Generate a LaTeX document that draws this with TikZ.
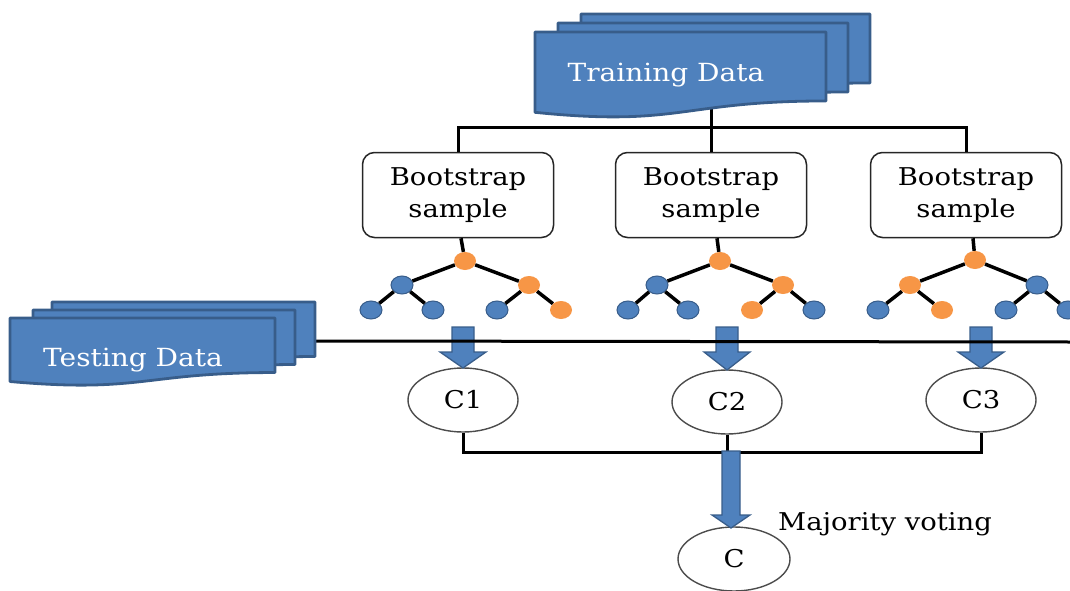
\documentclass[tikz,border=0pt]{standalone}
\usepackage{fontspec}
\setmainfont[FakeStretch=1.12]{DejaVu Serif}
\usetikzlibrary{shapes.geometric}
\definecolor{docblue}{HTML}{4F81BD}
\definecolor{docedge}{HTML}{385D8A}
\definecolor{nodeorange}{HTML}{F79646}
\tikzset{
  doc/.style={fill=docblue, draw=docedge, line width=2.8pt, line join=round},
  doctext/.style={text=white, font=\fontsize{25}{30}\selectfont, inner sep=0, anchor=base},
  bootbox/.style={draw=black!85, line width=1.5pt, rounded corners=12pt, minimum width=191pt, minimum height=85pt, align=center, font=\fontsize{24.5}{32}\selectfont, inner sep=0},
  clf/.style={ellipse, draw=black!70, line width=1.4pt, minimum width=110pt, minimum height=64pt, inner sep=0, font=\fontsize{24.5}{30}\selectfont},
  link/.style={line width=3pt, black},
  tedge/.style={line width=3.5pt, black},
  bn/.style={ellipse, fill=docblue, draw=docedge, line width=1pt, minimum width=22pt, minimum height=18pt, inner sep=0},
  on/.style={ellipse, fill=nodeorange, minimum width=22pt, minimum height=18pt, inner sep=0},
  blockarrow/.style={fill=docblue, draw=docedge, line width=1.3pt, line join=miter},
}
\newcommand\mydoc[4]{%
  \pgfmathsetmacro\dxr{#1+#3}\pgfmathsetmacro\dxm{#1+0.5*#3}%
  \pgfmathsetmacro\dyr{#2+0.802*#4}\pgfmathsetmacro\dyc{#2+1.107*#4}\pgfmathsetmacro\dyl{#2+0.934*#4}%
  \draw[doc] (#1,#2) -- (\dxr,#2) -- (\dxr,\dyr) .. controls (\dxm,\dyr) and (\dxm,\dyc) .. (#1,\dyl) -- cycle;}
\newcommand\blkarrow[6]{%
  \draw[blockarrow] (#1-#5,#2) -- (#1+#5,#2) -- (#1+#5,#3) -- (#1+#6,#3) -- (#1,#4) -- (#1-#6,#3) -- (#1-#5,#3) -- cycle;}
\begin{document}
\begin{tikzpicture}[x=1pt,y=-1pt]
\useasboundingbox (0,0) rectangle (1070,591);

% bootstrap boxes
\node[bootbox] (b1) at (458,195) {Bootstrap\\sample};
\node[bootbox] (b2) at (711,195) {Bootstrap\\sample};
\node[bootbox] (b3) at (966,195) {Bootstrap\\sample};

% training connector
\coordinate (tdb) at (711,100);
\coordinate (bus) at (711,128);
\draw[link] (b1.north) |- (b3.north |- bus) -- (b3.north);
\draw[link] (b2.north |- tdb) -- (b2.north);

% training data stack
\mydoc{581}{14}{289}{86}
\mydoc{558}{23}{290}{86}
\mydoc{535}{32}{291}{86}
\node[doctext] (td) at (666,82) {Training Data};

% trees
\begin{scope}[shift={(465,261)}]
  \node[on] (a0) at (0,0) {};
  \node[bn] (aL) at (-63,24) {};
  \node[on] (aR) at (64,24) {};
  \node[bn] (aLL) at (-94,49) {};
  \node[bn] (aLR) at (-32,49) {};
  \node[bn] (aRL) at (32,49) {};
  \node[on] (aRR) at (96,49) {};
\end{scope}
\begin{scope}[shift={(720,261)}]
  \node[on] (c0) at (0,0) {};
  \node[bn] (cL) at (-63,24) {};
  \node[on] (cR) at (63,24) {};
  \node[bn] (cLL) at (-92,49) {};
  \node[bn] (cLR) at (-32,49) {};
  \node[on] (cRL) at (32,49) {};
  \node[bn] (cRR) at (94,49) {};
\end{scope}
\begin{scope}[shift={(975,260)}]
  \node[on] (e0) at (0,0) {};
  \node[on] (eL) at (-65,25) {};
  \node[bn] (eR) at (62,25) {};
  \node[bn] (eLL) at (-97,50) {};
  \node[on] (eLR) at (-33,50) {};
  \node[bn] (eRL) at (31,50) {};
  \node[bn] (eRR) at (93,50) {};
\end{scope}
\foreach \t in {a,c,e}{
  \draw[tedge] (\t0) -- (\t L);
  \draw[tedge] (\t0) -- (\t R);
  \draw[tedge] (\t L) -- (\t LL);
  \draw[tedge] (\t L) -- (\t LR);
  \draw[tedge] (\t R) -- (\t RL);
  \draw[tedge] (\t R) -- (\t RR);
}
\draw[tedge] ([xshift=3pt]b1.south) -- (a0);
\draw[tedge] ([xshift=6pt]b2.south) -- (c0);
\draw[tedge] ([xshift=7pt]b3.south) -- (e0);

% classifiers
\node[clf] (k1) at (463,400) {C1};
\node[clf] (k2) at (727,402) {C2};
\node[clf] (k3) at (981,400) {C3};
\node[clf, minimum width=112pt] (k) at (734,559) {C};

% block arrows to classifiers
\blkarrow{463}{327}{352}{368}{11}{23}
\blkarrow{727}{327}{352}{370}{11}{23}
\blkarrow{981}{327}{352}{368}{11}{23}

% testing data stack and line
\coordinate (tdr) at (315,341);
\coordinate (edge) at (1070,342);
\draw[link] (tdr) -- (edge);
\mydoc{52}{302}{263}{68}
\mydoc{33}{310}{262}{68}
\mydoc{10}{318}{265}{68}
\node[doctext] (ts) at (133,366) {Testing Data};

% lower bus
\coordinate (lbus) at (730,452);
\draw[link] (k1.south) |- (k3.south |- lbus) -- (k3.south);
\draw[link] (k2.south) -- (k2.south |- lbus);
\blkarrow{731}{451}{515}{528}{9}{19}
\node[font=\fontsize{24.5}{30}\selectfont, anchor=base west, inner sep=0] (mv) at (778,530) {Majority voting};
\end{tikzpicture}
\end{document}
